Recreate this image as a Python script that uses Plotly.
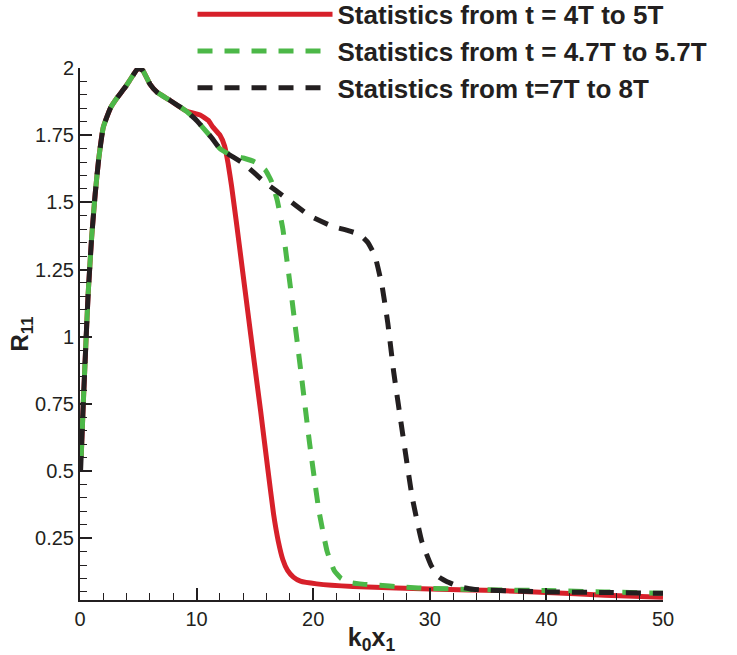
import plotly.graph_objects as go

# --- data ---
x_red = [0.1, 0.28, 0.5, 0.7, 1.0, 1.3, 1.6, 2.0, 2.6, 3.2, 3.9, 4.5, 5.0, 5.4, 6.0, 6.6, 7.7, 9.1,
         10.3, 11.0, 11.4, 12.0, 12.4, 12.7, 13.0, 13.4, 13.9, 14.4, 14.9, 15.5, 16.1, 16.6, 17.0, 17.4,
         17.8, 18.3, 18.9, 20.3, 23.4, 30.8, 36.0, 40.0, 45.0, 50.0]
y_red = [0.55, 0.75, 0.97, 1.16, 1.37, 1.53, 1.66, 1.78, 1.85, 1.89, 1.93, 1.97, 2.0, 1.99, 1.94, 1.91, 1.88, 1.84,
         1.825, 1.805, 1.78, 1.75, 1.71, 1.645, 1.56, 1.43, 1.26, 1.09, 0.92, 0.72, 0.51, 0.34, 0.24, 0.17,
         0.13, 0.105, 0.09, 0.08, 0.07, 0.06, 0.055, 0.048, 0.038, 0.03]

x_green = [0.1, 0.28, 0.5, 0.7, 1.0, 1.3, 1.6, 2.0, 2.6, 3.2, 3.9, 4.5, 5.0, 5.4, 6.0, 6.6, 7.7, 9.1,
           10.0, 10.5, 11.3, 12.0, 13.0, 14.0, 15.0, 15.9, 16.4, 16.9, 17.4, 17.7, 18.0, 18.4, 19.0,
           19.7, 20.5, 21.2, 21.8, 22.4, 23.2, 24.0, 29.0, 35.0, 40.0, 45.0, 50.0]
y_green = [0.55, 0.75, 0.97, 1.16, 1.37, 1.53, 1.66, 1.78, 1.85, 1.89, 1.93, 1.97, 2.0, 1.99, 1.94, 1.91, 1.88, 1.84,
           1.805, 1.78, 1.74, 1.70, 1.675, 1.665, 1.65, 1.62, 1.58, 1.51, 1.40, 1.30, 1.20, 1.06, 0.85,
           0.60, 0.35, 0.20, 0.13, 0.10, 0.085, 0.08, 0.065, 0.058, 0.055, 0.05, 0.045]

x_black = [0.05, 0.28, 0.5, 0.7, 1.0, 1.3, 1.6, 2.0, 2.6, 3.2, 3.9, 4.5, 5.0, 5.4, 6.0, 6.6, 7.7, 9.1,
           10.0, 10.5, 11.3, 12.0, 14.0, 15.85, 17.7, 19.7, 21.7, 23.0, 24.0, 24.7, 25.3, 25.9, 26.4,
           26.9, 27.7, 28.5, 29.3, 30.1, 30.8, 31.4, 32.5, 33.7, 40.0, 45.0, 50.0]
y_black = [0.5, 0.75, 0.97, 1.16, 1.37, 1.53, 1.66, 1.78, 1.85, 1.89, 1.93, 1.97, 2.0, 1.99, 1.94, 1.91, 1.88, 1.84,
           1.805, 1.78, 1.74, 1.70, 1.645, 1.575, 1.515, 1.45, 1.41, 1.395, 1.38, 1.35, 1.30, 1.19, 1.05,
           0.87, 0.63, 0.40, 0.24, 0.15, 0.105, 0.09, 0.07, 0.06, 0.05, 0.048, 0.045]

names = ["Statistics from t = 4T to 5T",
         "Statistics from t = 4.7T to 5.7T",
         "Statistics from t=7T to 8T"]

RED = "#d7202a"
GREEN = "#4cb848"
BLACK = "#231f20"
FONT = "Liberation Sans, Arial, sans-serif"

fig = go.Figure()
fig.add_trace(go.Scatter(x=x_red, y=y_red, mode="lines", name=names[0], cliponaxis=False,
                         line=dict(color=RED, width=5, shape="spline", smoothing=0.4)))
fig.add_trace(go.Scatter(x=x_green, y=y_green, mode="lines", name=names[1], cliponaxis=False,
                         line=dict(color=GREEN, width=5, dash="15px,12px", shape="spline", smoothing=0.4)))
fig.add_trace(go.Scatter(x=x_black, y=y_black, mode="lines", name=names[2], cliponaxis=False,
                         line=dict(color=BLACK, width=5, dash="15px,12px", shape="spline", smoothing=0.4)))

fig.update_layout(
    width=737, height=655,
    margin=dict(l=80, r=74, t=68, b=55, autoexpand=False),
    paper_bgcolor="white", plot_bgcolor="white",
    font=dict(family=FONT, color=BLACK),
    showlegend=True,
    legend=dict(x=0.193, y=1.145, xanchor="left", yanchor="top",
                font=dict(size=26, family=FONT, color=BLACK, weight="bold"),
                itemwidth=135, bgcolor="rgba(0,0,0,0)", tracegroupgap=0),
    xaxis=dict(range=[0, 50], dtick=10, tick0=0, ticks="inside", ticklen=12, tickwidth=2,
               tickcolor=BLACK, showline=True, linecolor=BLACK, linewidth=2, showgrid=False,
               zeroline=False, tickfont=dict(size=20, color=BLACK),
               minor=dict(dtick=2, tick0=0, ticks="inside", ticklen=7, tickwidth=1, tickcolor=BLACK),
               title=dict(text="<b>k<sub>0</sub>x<sub>1</sub></b>", font=dict(size=25, color=BLACK), standoff=2)),
    yaxis=dict(range=[0.02, 2.0], dtick=0.25, tick0=0, ticks="inside", ticklen=12, tickwidth=2,
               tickcolor=BLACK, showline=True, linecolor=BLACK, linewidth=2, showgrid=False,
               zeroline=False, tickfont=dict(size=20, color=BLACK),
               minor=dict(dtick=0.05, tick0=0, ticks="inside", ticklen=7, tickwidth=1, tickcolor=BLACK),
               title=dict(text="<b>R<sub>11</sub></b>", font=dict(size=24, color=BLACK), standoff=0)),
)

fig.write_html("out.html")
